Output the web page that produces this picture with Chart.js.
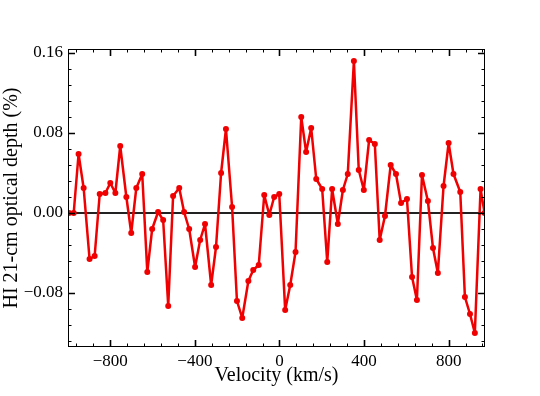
<!DOCTYPE html>
<html>
<head>
<meta charset="utf-8">
<script src="https://cdn.jsdelivr.net/npm/chart.js@4.4.1/dist/chart.umd.min.js"></script>
<style>
  html, body { margin: 0; padding: 0; background: #fff; }
</style>
</head>
<body>
<canvas id="chart" width="540" height="396"></canvas>
<script>
// velocity channels (km/s) and optical depth (%)
const velocity = [
  -995, -973, -950, -926, -898, -874, -850, -823, -800, -776,
  -753, -724, -701, -677, -649, -625, -602, -574, -550, -526,
  -503, -474, -451, -427, -399, -375, -352, -323, -300, -276,
  -253, -224, -201, -176, -147, -124, -98, -72, -48, -25,
  -1, 27, 51, 76, 103, 126, 150, 174, 202, 226,
  249, 276, 300, 323, 352, 375, 399, 424, 451, 474,
  499, 526, 551, 575, 603, 627, 650, 674, 702, 726,
  749, 776, 800, 823, 855, 877, 901, 924, 951, 970
];
const depth = [
  0.000, 0.000, 0.059, 0.025, -0.046, -0.043, 0.019, 0.020, 0.030, 0.020,
  0.067, 0.016, -0.020, 0.025, 0.039, -0.059, -0.016, 0.001, -0.007, -0.093,
  0.017, 0.025, 0.001, -0.016, -0.054, -0.027, -0.011, -0.072, -0.034, 0.040,
  0.084, 0.006, -0.088, -0.105, -0.068, -0.057, -0.052, 0.018, -0.002, 0.016,
  0.019, -0.097, -0.072, -0.039, 0.096, 0.061, 0.085, 0.034, 0.024, -0.049,
  0.024, -0.011, 0.023, 0.039, 0.152, 0.043, 0.023, 0.073, 0.069, -0.027,
  -0.003, 0.048, 0.039, 0.010, 0.014, -0.064, -0.087, 0.038, 0.012, -0.035,
  -0.060, 0.027, 0.070, 0.039, 0.021, -0.084, -0.101, -0.120, 0.024, 0.000
];
const xTicks = [-800, -400, 0, 400, 800];
const yTicks = [-0.08, 0, 0.08, 0.16];

const points = velocity.map((v, i) => ({ x: v, y: depth[i] }));
const minus = s => s.replace('-', '\u2212');

// frame + inward ticks on all four sides, and the zero line
const framePlugin = {
  id: 'frame',
  beforeDatasetsDraw(chart) {
    const { ctx, chartArea: a, scales: { y } } = chart;
    const py = y.getPixelForValue(0);
    ctx.save();
    ctx.strokeStyle = '#222';
    ctx.lineWidth = 1.8;
    ctx.beginPath();
    ctx.moveTo(a.left, py);
    ctx.lineTo(a.right, py);
    ctx.stroke();
    ctx.restore();
  },
  afterDatasetsDraw(chart) {
    const { ctx, chartArea: a, scales: { x, y } } = chart;
    ctx.save();
    ctx.strokeStyle = '#000';
    ctx.lineWidth = 1;
    ctx.strokeRect(a.left + 0.5, a.top + 0.5, a.right - a.left - 1, a.bottom - a.top - 1);

    const tick = (len, lw, vx, vy) => {
      ctx.lineWidth = lw;
      ctx.beginPath();
      if (vx !== null) {
        const px = Math.round(x.getPixelForValue(vx)) + 0.5;
        ctx.moveTo(px, a.bottom); ctx.lineTo(px, a.bottom - len);
        ctx.moveTo(px, a.top); ctx.lineTo(px, a.top + len);
      } else {
        const py = Math.round(y.getPixelForValue(vy)) + 0.5;
        ctx.moveTo(a.left, py); ctx.lineTo(a.left + len, py);
        ctx.moveTo(a.right, py); ctx.lineTo(a.right - len, py);
      }
      ctx.stroke();
    };
    for (let v = -960; v <= x.max; v += 80) {
      if (v >= x.min) tick(3.5, 1, v, null);
    }
    for (let k = -8; k <= 10; k++) {
      const v = k * 0.016;
      if (v >= y.min && v <= y.max) tick(3.5, 1, null, v);
    }
    xTicks.forEach(v => tick(7, 1.6, v, null));
    yTicks.forEach(v => tick(7, 1.6, null, v));
    ctx.restore();
  }
};

new Chart(document.getElementById('chart'), {
  type: 'line',
  data: {
    datasets: [{
      data: points,
      borderColor: '#f00000',
      backgroundColor: '#f00000',
      borderWidth: 2.5,
      borderJoinStyle: 'round',
      borderCapStyle: 'round',
      pointRadius: 3,
      pointBorderWidth: 0,
      pointHoverRadius: 3,
      tension: 0
    }]
  },
  options: {
    responsive: false,
    animation: false,
    events: [],
    layout: { padding: { top: 49, right: 55, left: 0, bottom: 0 } },
    plugins: { legend: { display: false }, tooltip: { enabled: false } },
    scales: {
      x: {
        type: 'linear',
        min: -1000,
        max: 972,
        afterFit: s => { s.height = 49; },
        afterBuildTicks: s => { s.ticks = xTicks.map(v => ({ value: v })); },
        grid: { display: false, drawTicks: false },
        border: { display: false },
        ticks: {
          color: '#000',
          padding: 4,
          maxRotation: 0,
          font: { family: 'Liberation Serif', size: 17 },
          callback: v => minus(String(v))
        },
        title: {
          display: true,
          text: 'Velocity (km/s)',
          color: '#000',
          padding: { top: 0, bottom: 8 },
          font: { family: 'Liberation Serif', size: 20 }
        }
      },
      y: {
        min: -0.134,
        max: 0.164,
        afterFit: s => { s.width = 68; },
        afterBuildTicks: s => { s.ticks = yTicks.map(v => ({ value: v })); },
        grid: { display: false, drawTicks: false },
        border: { display: false },
        ticks: {
          color: '#000',
          padding: 5,
          font: { family: 'Liberation Serif', size: 17 },
          callback: v => minus(v.toFixed(2))
        },
        title: {
          display: true,
          text: 'HI 21-cm optical depth (%)',
          color: '#000',
          padding: { top: 0, bottom: 0 },
          font: { family: 'Liberation Serif', size: 20 }
        }
      }
    }
  },
  plugins: [framePlugin]
});
</script>
</body>
</html>
